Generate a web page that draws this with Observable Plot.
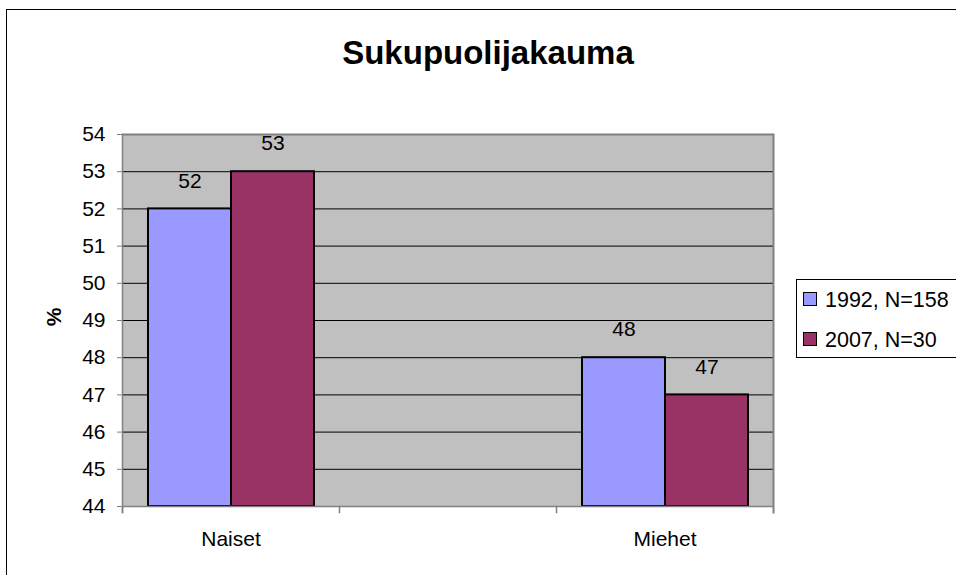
<!DOCTYPE html>
<html>
<head>
<meta charset="utf-8">
<script src="https://cdn.jsdelivr.net/npm/d3@7"></script>
<script src="https://cdn.jsdelivr.net/npm/@observablehq/plot@0.6"></script>
<style>
  html, body { margin: 0; padding: 0; overflow: hidden; background: #fff; }
  body { font-family: "Liberation Sans", Arial, sans-serif; }
  #wrap { position: relative; width: 956px; height: 575px; overflow: hidden; }
  #outer { position: absolute; left: 6px; top: 9px; width: 1100px; height: 800px; border: 1px solid #000; box-sizing: border-box; pointer-events: none; }
  #title { position: absolute; left: 0; top: 36px; width: 976px; text-align: center; font-weight: bold; font-size: 33px; line-height: 33px; color: #000; }
  #ylabel { position: absolute; left: 53px; top: 317px; font-weight: bold; font-size: 21px; line-height: 21px; transform: translate(-50%, -50%) rotate(-90deg); }
  #legend { position: absolute; left: 796px; top: 279px; width: 300px; height: 79px; border: 1px solid #000; box-sizing: border-box; background: #fff; }
  .item { position: absolute; left: 6px; font-size: 21.5px; line-height: 21px; white-space: nowrap; }
  .sw { display: inline-block; width: 12px; height: 12px; border: 1px solid #000; vertical-align: middle; margin-right: 8px; position: relative; top: -2px; }
  #chart { position: absolute; left: 0; top: 0; }
</style>
</head>
<body>
<div id="wrap">
  <div id="chart"></div>
  <div id="outer"></div>
  <div id="title"></div>
  <div id="ylabel"></div>
  <div id="legend"></div>
</div>
<script>
// ---- data ----
const titleText = "Sukupuolijakauma";
const yLabel = "%";
const categories = ["Naiset", " ", "Miehet"];
const years = ["1992", "2007"];
const seriesLabels = ["1992, N=158", "2007, N=30"];
const values1992 = [52, null, 48];
const values2007 = [53, null, 47];
const seriesColors = ["#9999FF", "#993366"];
const yTicks = [44, 45, 46, 47, 48, 49, 50, 51, 52, 53, 54];

// ---- table built from arrays ----
const rows = [];
categories.forEach((c, i) => {
  [values1992, values2007].forEach((vals, j) => {
    if (vals[i] != null) rows.push({cat: c, year: years[j], value: vals[i]});
  });
});

const W = 956, H = 575;
const mL = 122, mR = 183, mT = 134, mB = 69;
const plotH = H - mT - mB;
const yMin = yTicks[0], yMax = yTicks[yTicks.length - 1];
const axisGray = "#808080";
const fs = 21;

const chart = Plot.plot({
  width: W,
  height: H,
  marginLeft: mL,
  marginRight: mR,
  marginTop: mT,
  marginBottom: mB,
  style: {fontFamily: "'Liberation Sans', Arial, sans-serif", fontSize: fs + "px", color: "#000", background: "transparent"},
  fx: {domain: categories, padding: 0, label: null},
  x: {domain: years, paddingInner: 0, paddingOuter: 0.3, axis: null},
  y: {domain: [yMin, yMax], axis: null},
  color: {domain: years, range: seriesColors},
  marks: [
    Plot.barY(categories, {fx: d => d, y1: yMin, y2: yMax, fill: "#C0C0C0"}),
    Plot.ruleY(yTicks.filter(t => t > yMin && t < yMax), {stroke: "#000", strokeWidth: 1}),
    Plot.ruleY([yMax], {stroke: axisGray, strokeWidth: 2}),
    Plot.barY(rows, {fx: "cat", x: "year", y1: yMin, y2: "value", fill: "year", stroke: "#000", strokeWidth: 2}),
    Plot.ruleY([yMin], {stroke: axisGray, strokeWidth: 1.5}),
    Plot.frame({anchor: "left", stroke: axisGray, strokeWidth: 1.5, insetTop: plotH, insetBottom: -6}),
    Plot.frame({anchor: "left", stroke: axisGray, strokeWidth: 1.5, insetBottom: -6, facetAnchor: "left"}),
    Plot.frame({anchor: "right", stroke: axisGray, strokeWidth: 2, insetBottom: -6, facetAnchor: "right"}),
    Plot.axisY({ticks: yTicks, tickSize: 5, tickPadding: 12, stroke: axisGray, fill: "#000", fontSize: fs, label: null}),
    Plot.axisFx({anchor: "bottom", tickSize: 0, tickPadding: 25, fill: "#000", fontSize: fs, label: null}),
    Plot.text(rows, {fx: "cat", x: "year", y: "value", text: d => String(d.value), lineAnchor: "middle", dy: -28, fontSize: fs, fill: "#000"})
  ]
});
document.getElementById("chart").appendChild(chart);

document.getElementById("title").textContent = titleText;
document.getElementById("ylabel").textContent = yLabel;

const legend = document.getElementById("legend");
seriesLabels.forEach((lab, i) => {
  const it = document.createElement("div");
  it.className = "item";
  it.style.top = (i === 0 ? 10 : 50) + "px";
  const sw = document.createElement("span");
  sw.className = "sw";
  sw.style.background = seriesColors[i];
  it.appendChild(sw);
  it.appendChild(document.createTextNode(lab));
  legend.appendChild(it);
});
</script>
</body>
</html>
